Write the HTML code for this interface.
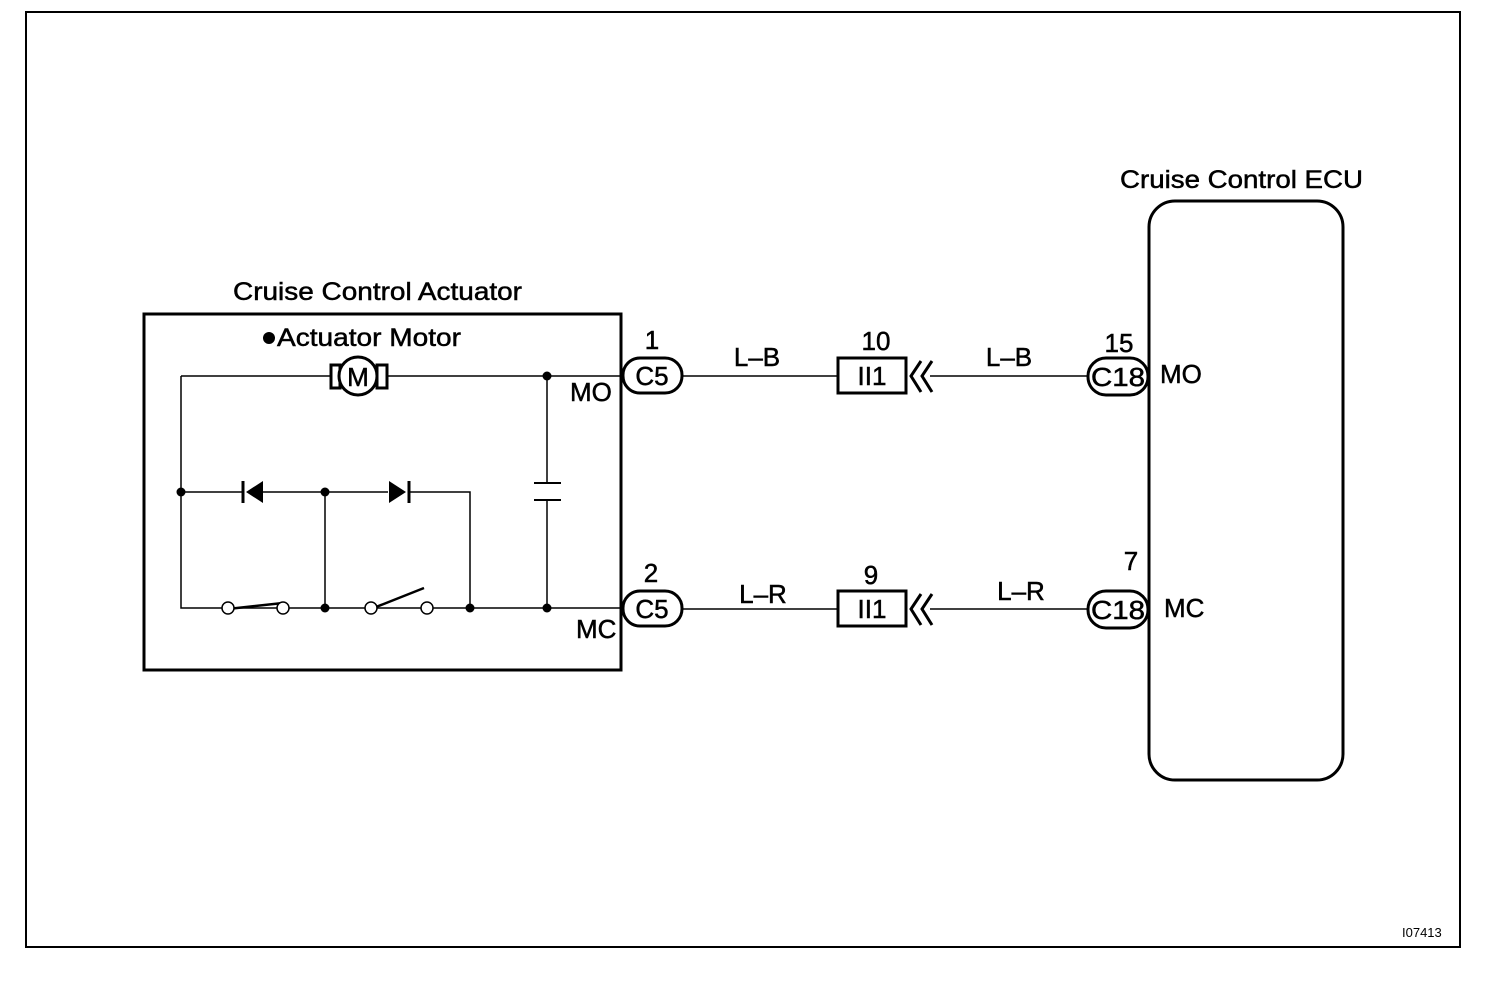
<!DOCTYPE html>
<html><head><style>body{margin:0;background:#fff}svg{display:block}text{font-family:"Liberation Sans",Arial,sans-serif;fill:#000;stroke:#000;stroke-width:0.5}</style></head>
<body>
<svg width="1504" height="982" viewBox="0 0 1504 982" xmlns="http://www.w3.org/2000/svg">
<rect x="26" y="12" width="1434" height="935" fill="none" stroke="#000" stroke-width="2"/>
<text x="1402" y="937" font-size="13" style="stroke-width:0">I07413</text>
<text x="233" y="300" font-size="25" textLength="289" lengthAdjust="spacingAndGlyphs">Cruise Control Actuator</text>
<text x="1120" y="188" font-size="25" textLength="243" lengthAdjust="spacingAndGlyphs">Cruise Control ECU</text>
<rect x="144" y="314" width="477" height="356" fill="none" stroke="#000" stroke-width="3"/>
<rect x="1149" y="201" width="194" height="579" rx="26" fill="none" stroke="#000" stroke-width="3"/>
<circle cx="269" cy="338" r="6"/>
<text x="277" y="346" font-size="25" textLength="184" lengthAdjust="spacingAndGlyphs">Actuator Motor</text>
<g stroke="#000" stroke-width="1.5" fill="none">
<path d="M181 376H331M388 376H622M181 376V608H222M234 608H277M289 608H365M377 608H421M433 608H622M181 492H244M263 492H388M410 492H470V608M325 492V608M547 376V483M547 500V608"/>
<path d="M534 483H561M534 500H561" stroke-width="2"/>
<path d="M228 609L283 603M371 609L424 588" stroke-width="2.5"/>
<circle cx="228" cy="608" r="6" fill="#fff"/><circle cx="283" cy="608" r="6" fill="#fff"/>
<circle cx="371" cy="608" r="6" fill="#fff"/><circle cx="427" cy="608" r="6" fill="#fff"/>
<path d="M331 365H340V388H331ZM377 365H387V388H377Z" stroke-width="3"/>
<circle cx="358" cy="376" r="19" fill="#fff" stroke-width="3"/>
<path d="M683 376H838M930 376H1089M683 609H838M930 609H1089"/>
<rect x="838" y="358" width="68" height="35" stroke-width="3"/>
<rect x="838" y="591" width="68" height="35" stroke-width="3"/>
<path d="M921 361L911 376L921 392M932 361L922 376L932 392M921 594L911 609L921 625M932 594L922 609L932 625" stroke-width="3"/>
<rect x="623" y="358" width="59" height="35" rx="17" stroke-width="3"/>
<rect x="623" y="591" width="59" height="35" rx="17" stroke-width="3"/>
<rect x="1088" y="358" width="60" height="37" rx="18" stroke-width="3"/>
<rect x="1088" y="591" width="60" height="37" rx="18" stroke-width="3"/>
</g>
<g>
<circle cx="181" cy="492" r="4.5"/><circle cx="325" cy="492" r="4.5"/><circle cx="325" cy="608" r="4.5"/>
<circle cx="470" cy="608" r="4.5"/><circle cx="547" cy="608" r="4.5"/><circle cx="547" cy="376" r="4.5"/>
<path d="M263 481V503L246 492Z"/><path d="M243 481V503" stroke="#000" stroke-width="3"/>
<path d="M389 481V503L406 492Z"/><path d="M409 481V503" stroke="#000" stroke-width="3"/>
</g>
<text x="358" y="386" font-size="26" text-anchor="middle">M</text>
<g font-size="26" text-anchor="middle">
<text x="652" y="385">C5</text><text x="652" y="618">C5</text>
<text x="1118" y="386" textLength="54" lengthAdjust="spacingAndGlyphs">C18</text><text x="1118" y="619" textLength="54" lengthAdjust="spacingAndGlyphs">C18</text>
<text x="872" y="385">II1</text><text x="872" y="618">II1</text>
<text x="652" y="349">1</text><text x="651" y="582">2</text>
<text x="876" y="350">10</text><text x="871" y="584">9</text>
<text x="1119" y="352">15</text><text x="1131" y="570">7</text>
<text x="757" y="366">L–B</text><text x="1009" y="366">L–B</text>
<text x="763" y="603">L–R</text><text x="1021" y="600">L–R</text>
</g>
<g font-size="26">
<text x="570" y="401">MO</text><text x="576" y="638">MC</text>
<text x="1160" y="383">MO</text><text x="1164" y="617">MC</text>
</g>
</svg>
</body></html>
